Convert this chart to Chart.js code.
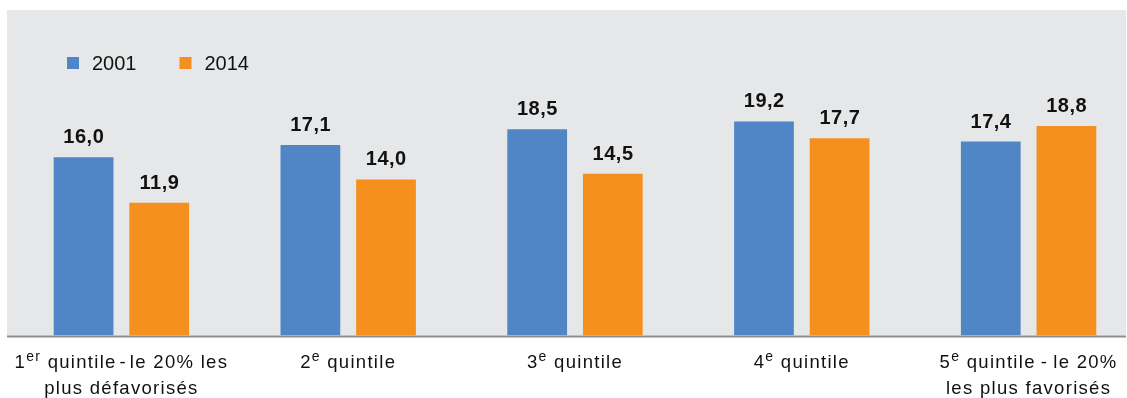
<!DOCTYPE html>
<html><head><meta charset="utf-8">
<script src="https://cdn.jsdelivr.net/npm/chart.js@4/dist/chart.umd.min.js"></script>
<style>
html,body{margin:0;padding:0;overflow:hidden;background:#fff}
#wrap{position:relative;width:1143px;height:398px}
</style></head>
<body><div id="wrap"><canvas id="c"></canvas></div>
<script>
// Categories (lines; ^...^ marks superscript)
const categories = [
  ["1^er^ quintile\u200A-\u200Ale 20% les", "plus défavorisés"],
  ["2^e^ quintile"],
  ["3^e^ quintile"],
  ["4^e^ quintile"],
  ["5^e^ quintile\u2009-\u2009le 20%", "les plus favorisés"]
];
const seriesNames = ["2001", "2014"];
const values2001 = [16.0, 17.1, 18.5, 19.2, 17.4];
const values2014 = [11.9, 14.0, 14.5, 17.7, 18.8];
const seriesColors = ["#5186c6", "#f5901f"];
const yMax = 29.2;

const FONT = "'Liberation Sans', Arial, Helvetica, sans-serif";

function fmt(v) { return v.toFixed(1).replace('.', ','); }

function parseLine(line) {
  return line.split('^').map((t, i) => ({ text: t, sup: i % 2 === 1 })).filter(s => s.text.length);
}

const decor = {
  id: 'decor',
  beforeDraw(chart) {
    const { ctx, chartArea } = chart;
    const visW = window.innerWidth;
    ctx.save();
    ctx.fillStyle = '#e6e7e8';
    ctx.fillRect(chartArea.left - 1, chartArea.top, visW - 1 - (chartArea.left - 1), chartArea.bottom - chartArea.top);
    ctx.restore();
  },
  afterDatasetsDraw(chart) {
    const { ctx, chartArea } = chart;
    const visW = window.innerWidth;
    ctx.save();
    // axis line
    ctx.strokeStyle = '#8e8e8e';
    ctx.lineWidth = 2;
    ctx.beginPath();
    ctx.moveTo(chartArea.left - 1, chartArea.bottom + 1);
    ctx.lineTo(visW - 1, chartArea.bottom + 1);
    ctx.stroke();

    // data labels
    ctx.fillStyle = '#111';
    ctx.font = "bold 20px " + FONT;
    ctx.textAlign = 'center';
    ctx.textBaseline = 'alphabetic';
    try { ctx.letterSpacing = '0.5px'; } catch (e) {}
    chart.data.datasets.forEach((ds, di) => {
      const meta = chart.getDatasetMeta(di);
      meta.data.forEach((bar, i) => {
        ctx.fillText(fmt(ds.data[i]), bar.x + 0.25, bar.y - 14);
      });
    });

    // category labels
    const xs = chart.scales.x;
    ctx.textAlign = 'left';
    ctx.fillStyle = '#111';
    try { ctx.letterSpacing = '1.3px'; } catch (e) {}
    categories.forEach((lines, i) => {
      const cx = xs.getPixelForValue(i);
      lines.forEach((line, li) => {
        const segs = parseLine(line);
        let total = 0;
        segs.forEach(s => {
          ctx.font = (s.sup ? "14px " : "18.5px ") + FONT;
          s.w = ctx.measureText(s.text).width;
          total += s.w;
        });
        let x = cx - total / 2;
        const base = chartArea.bottom + 32.5 + li * 26;
        segs.forEach(s => {
          ctx.font = (s.sup ? "14px " : "18.5px ") + FONT;
          ctx.fillText(s.text, x, s.sup ? base - 7 : base);
          x += s.w;
        });
      });
    });

    // legend
    try { ctx.letterSpacing = '0px'; } catch (e) {}
    ctx.font = "20px " + FONT;
    ctx.textBaseline = 'middle';
    let lx = chartArea.left + 59;
    const ly = chartArea.top + 53;
    chart.data.datasets.forEach((ds) => {
      ctx.fillStyle = ds.backgroundColor;
      ctx.fillRect(lx, ly - 6, 12, 12);
      ctx.fillStyle = '#111';
      ctx.fillText(ds.label, lx + 25, ly + 1);
      lx += 25 + ctx.measureText(ds.label).width + 43;
    });
    ctx.restore();
  }
};

new Chart(document.getElementById('c'), {
  type: 'bar',
  data: {
    labels: categories.map(l => l.join(' ').replace(/\^/g, '')),
    datasets: [
      { label: seriesNames[0], data: values2001, backgroundColor: seriesColors[0] },
      { label: seriesNames[1], data: values2014, backgroundColor: seriesColors[1] }
    ]
  },
  options: {
    responsive: true,
    maintainAspectRatio: false,
    animation: false,
    layout: { padding: { left: 8, right: 1, top: 10, bottom: 62.5 } },
    datasets: { bar: { categoryPercentage: 0.667, barPercentage: 0.79 } },
    plugins: { legend: { display: false }, tooltip: { enabled: false } },
    scales: {
      x: { display: false },
      y: { display: false, min: 0, max: yMax }
    }
  },
  plugins: [decor]
});
</script>
</body></html>
